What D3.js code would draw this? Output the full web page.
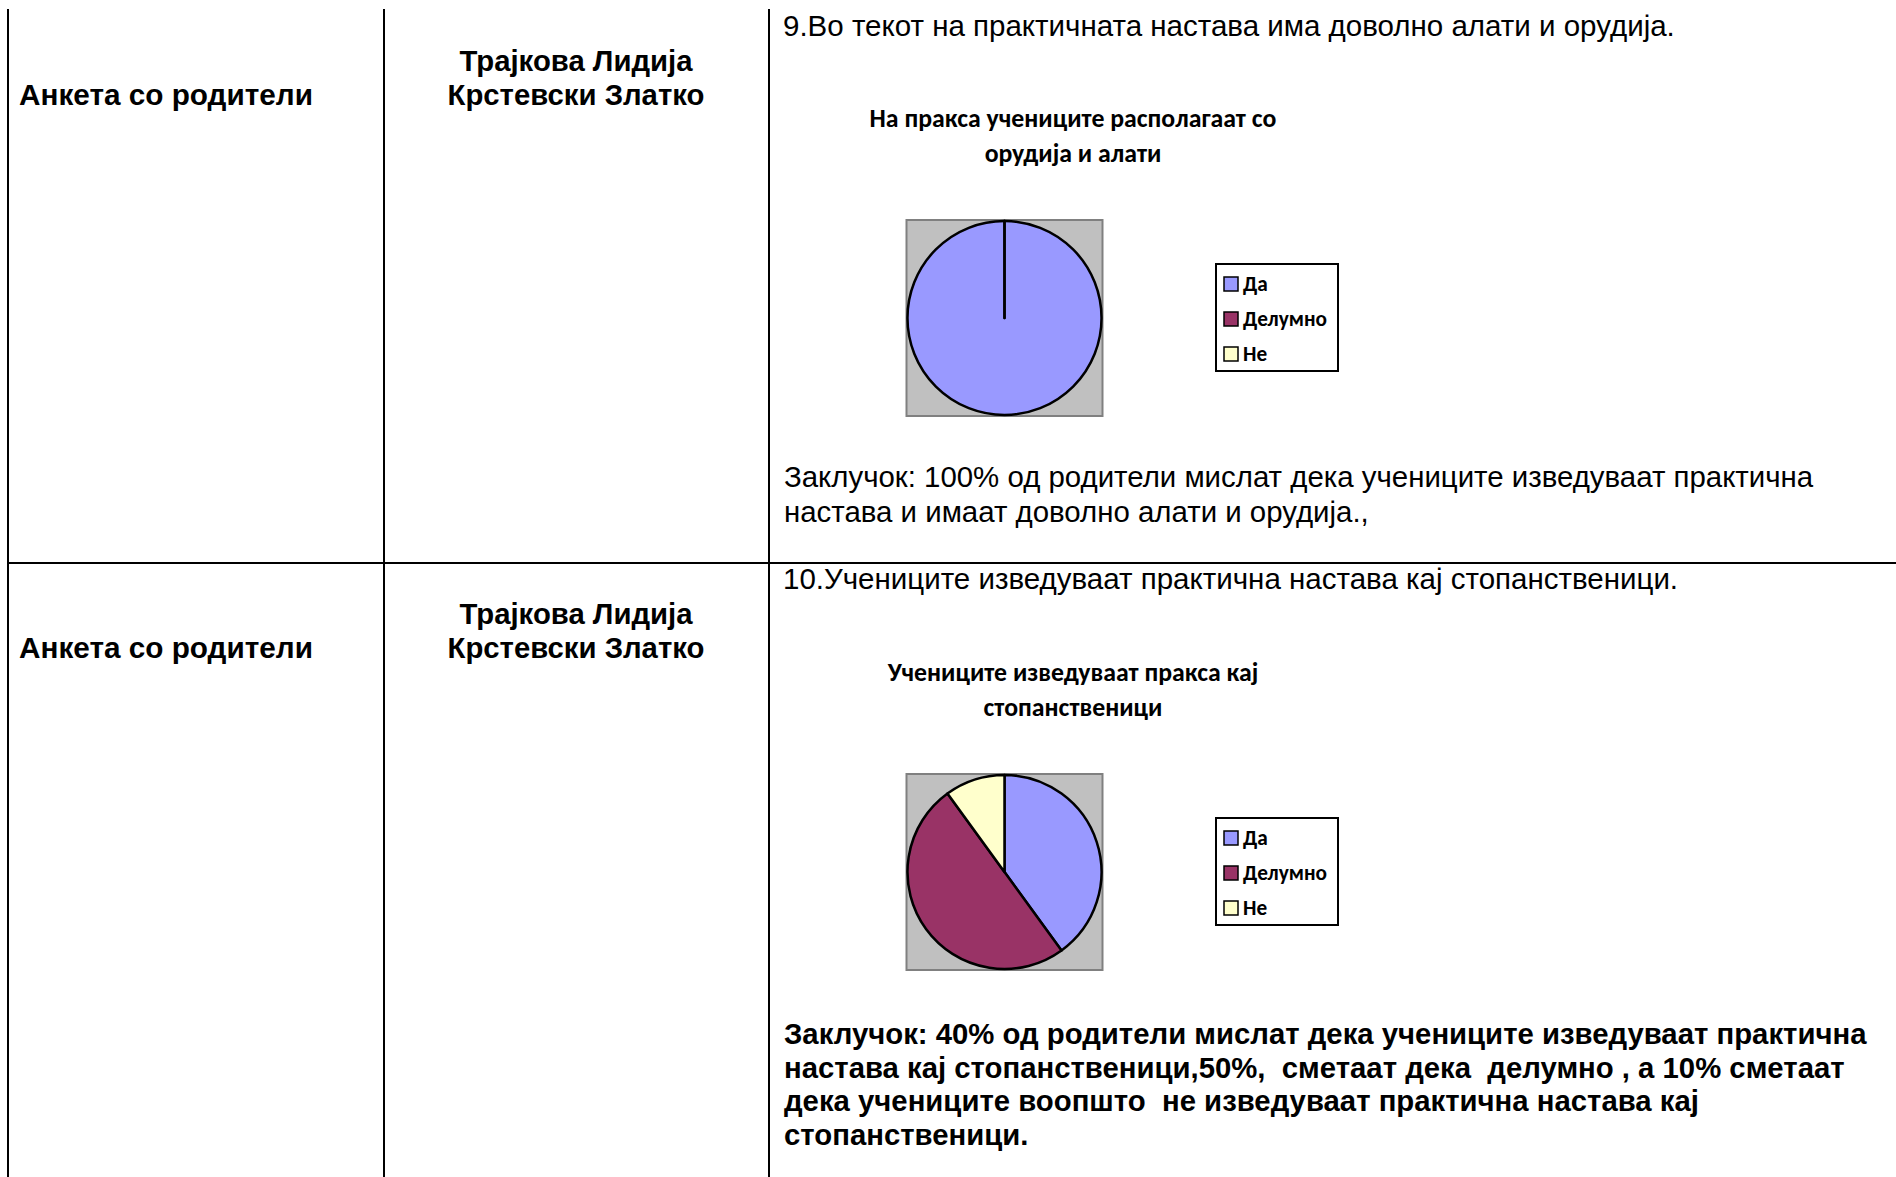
<!DOCTYPE html>
<html>
<head>
<meta charset="utf-8">
<script src="https://cdn.jsdelivr.net/npm/d3@7"></script>
<style>
  body { margin: 0; background: #fff; }
  svg { display: block; }
</style>
</head>
<body>
<svg width="1896" height="1177"></svg>
<script>
// data
const categories = ['Да', 'Делумно', 'Не'];
const chart1Values = [100, 0, 0];
const chart2Values = [40, 50, 10];

const rowLabels = ['Анкета со родители', 'Анкета со родители'];
const authors = ['Трајкова Лидија', 'Крстевски Златко'];
const questions = [
  '9.Во текот на практичната настава има доволно алати и орудија.',
  '10.Учениците изведуваат практична настава кај стопанственици.'
];
const chartTitles = [
  ['На пракса учениците располагаат со', 'орудија и алати'],
  ['Учениците изведуваат пракса кај', 'стопанственици']
];
const conclusion1 = [
  'Заклучок: 100% од родители мислат дека учениците изведуваат практична',
  'настава и имаат доволно алати и орудија.,'
];
const conclusion2 = [
  'Заклучок: 40% од родители мислат дека учениците изведуваат практична',
  'настава кај стопанственици,50%,  сметаат дека  делумно , а 10% сметаат',
  'дека учениците воопшто  не изведуваат практична настава кај',
  'стопанственици.'
];

const sliceColors = ['#9999ff', '#993366', '#ffffcc'];

const svg = d3.select('svg');
const arial = "'Liberation Sans', Arial, sans-serif";
const calibri = "Carlito, 'Open Sans', 'Noto Sans', sans-serif";

// scale a font size so one sample line gets the width it has in the original
function fitSize(family, weight, str, target) {
  const t = svg.append('text')
    .attr('font-family', family).attr('font-weight', weight)
    .attr('font-size', 20).style('white-space', 'pre').text(str);
  const w = t.node().getComputedTextLength();
  t.remove();
  return 20 * target / w;
}

const labelSize = fitSize(arial, 'bold', rowLabels[0], 294);
const authorSize = fitSize(arial, 'bold', authors[1], 257);
const questionSize = fitSize(arial, 'normal', questions[0], 892);
const concl1Size = fitSize(arial, 'normal', conclusion1[0], 1030);
const concl2Size = fitSize(arial, 'bold', conclusion2[0], 1083);
const titleSize = fitSize(calibri, 'bold', chartTitles[0][0], 407);
const legendSize = fitSize(calibri, 'bold', categories[1], 84);

// table lines
const grid = svg.append('g').attr('stroke', '#000').attr('stroke-width', 2);
[8, 384, 769].forEach(x => {
  grid.append('line').attr('x1', x).attr('x2', x).attr('y1', 9).attr('y2', 1177);
});
grid.append('line').attr('x1', 7).attr('x2', 1896).attr('y1', 563).attr('y2', 563);

function addText(x, y, str, family, weight, size, anchor) {
  svg.append('text')
    .attr('x', x).attr('y', y)
    .attr('font-family', family)
    .attr('font-weight', weight)
    .attr('font-size', size)
    .attr('text-anchor', anchor || 'start')
    .style('white-space', 'pre')
    .attr('fill', '#000')
    .text(str);
}

const rowShift = 553;

rowLabels.forEach((s, i) => {
  addText(19, 105 + i * rowShift, s, arial, 'bold', labelSize);
  addText(576, 71 + i * rowShift, authors[0], arial, 'bold', authorSize, 'middle');
  addText(576, 105 + i * rowShift, authors[1], arial, 'bold', authorSize, 'middle');
  addText(783, 36 + i * rowShift, questions[i], arial, 'normal', questionSize);
});

conclusion1.forEach((s, i) => addText(784, 487 + i * 35, s, arial, 'normal', concl1Size));
conclusion2.forEach((s, i) => addText(784, 1044 + i * 33.7, s, arial, 'bold', concl2Size));

// pies
const color = d3.scaleOrdinal().domain(categories).range(sliceColors);
const pie = d3.pie().sort(null).value(d => d.value);
const radius = 97;
const arc = d3.arc().innerRadius(0).outerRadius(radius);

function drawChart(values, title, cy) {
  const data = categories.map((c, i) => ({ name: c, value: values[i] }));
  const cx = 1004.5;

  title.forEach((s, i) => addText(1073, cy - 191 + i * 35, s, calibri, 'bold', titleSize, 'middle'));

  svg.append('rect')
    .attr('x', cx - radius - 1).attr('y', cy - radius - 1)
    .attr('width', 2 * radius + 2).attr('height', 2 * radius + 2)
    .attr('fill', '#c0c0c0').attr('stroke', '#808080').attr('stroke-width', 2);

  const g = svg.append('g').attr('transform', `translate(${cx},${cy})`);
  g.selectAll('path')
    .data(pie(data))
    .enter().append('path')
    .attr('d', arc)
    .attr('fill', d => color(d.data.name))
    .attr('stroke', '#000')
    .attr('stroke-width', 2.5)
    .attr('stroke-linejoin', 'round');

  const lx = 1216, ly = cy - 54;
  const leg = svg.append('g');
  leg.append('rect')
    .attr('x', lx).attr('y', ly).attr('width', 122).attr('height', 107)
    .attr('fill', '#fff').attr('stroke', '#000').attr('stroke-width', 2);
  const item = leg.selectAll('g.item')
    .data(categories)
    .enter().append('g')
    .attr('class', 'item')
    .attr('transform', (d, i) => `translate(${lx + 8},${ly + 20 + i * 35})`);
  item.append('rect')
    .attr('x', 0).attr('y', -7).attr('width', 14).attr('height', 14)
    .attr('fill', d => color(d)).attr('stroke', '#000').attr('stroke-width', 1.5);
  item.append('text')
    .attr('x', 19).attr('y', legendSize * 0.35)
    .attr('font-family', calibri).attr('font-weight', 'bold')
    .attr('font-size', legendSize)
    .text(d => d);
}

drawChart(chart1Values, chartTitles[0], 318);
drawChart(chart2Values, chartTitles[1], 872);
</script>
</body>
</html>
